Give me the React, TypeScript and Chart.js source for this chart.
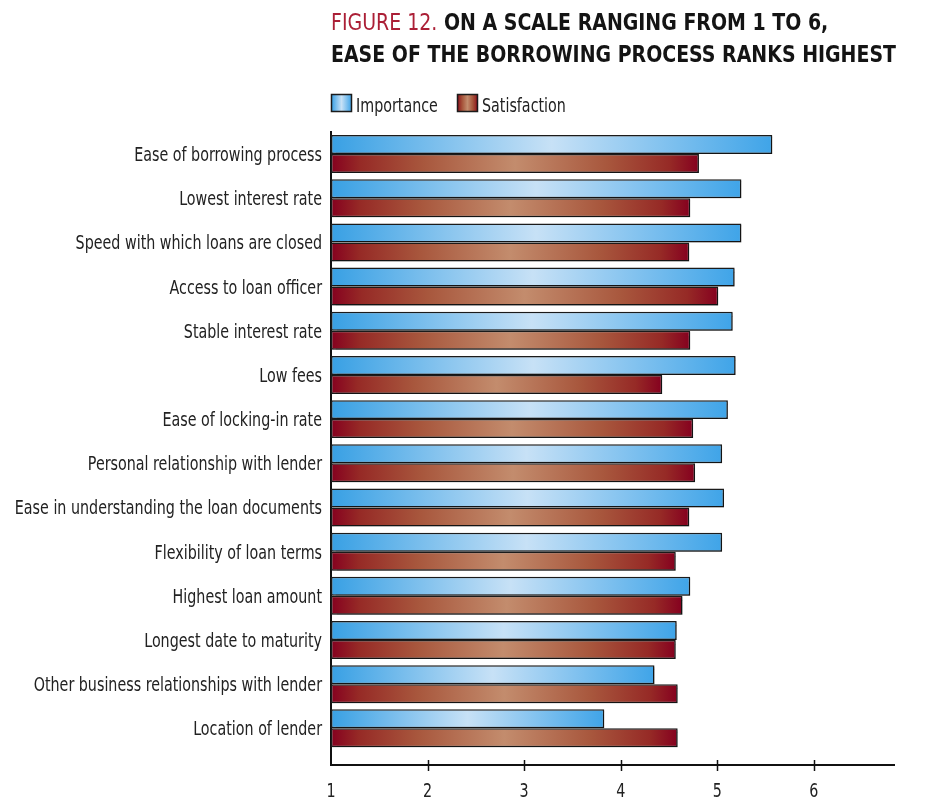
import React, { useEffect, useRef } from "react";
import { Chart, registerables } from "chart.js";

Chart.register(...registerables);

const categories = [
  "Ease of borrowing process",
  "Lowest interest rate",
  "Speed with which loans are closed",
  "Access to loan officer",
  "Stable interest rate",
  "Low fees",
  "Ease of locking-in rate",
  "Personal relationship with lender",
  "Ease in understanding the loan documents",
  "Flexibility of loan terms",
  "Highest loan amount",
  "Longest date to maturity",
  "Other business relationships with lender",
  "Location of lender",
];
const importance = [5.57, 5.25, 5.25, 5.18, 5.16, 5.19, 5.11, 5.05, 5.07, 5.05, 4.72, 4.58, 4.35, 3.83];
const satisfaction = [4.81, 4.72, 4.71, 5.01, 4.72, 4.43, 4.75, 4.77, 4.71, 4.57, 4.64, 4.57, 4.59, 4.59];
const xTicks = [1, 2, 3, 4, 5, 6];
const seriesNames = ["Importance", "Satisfaction"];
const titleLead = "FIGURE 12.";
const titleLine1 = " ON A SCALE RANGING FROM 1 TO 6,";
const titleLine2 = "EASE OF THE BORROWING PROCESS RANKS HIGHEST";

const FONT = "'DejaVu Sans Condensed', 'Liberation Sans Narrow', sans-serif";
const SX = 0.836; // horizontal condensing of text
const X_MIN = 1;
const X_MAX = 6.83;

const blueStops: [number, string][] = [
  [0, "#38a0e4"],
  [0.5, "#c7e1f6"],
  [1, "#3fa4e8"],
];
const redStops: [number, string][] = [
  [0, "#85001f"],
  [0.08, "#962a26"],
  [0.25, "#a8573d"],
  [0.5, "#c38c6d"],
  [0.75, "#a8573d"],
  [0.92, "#962a26"],
  [1, "#85001f"],
];

function makeGradient(ctx: CanvasRenderingContext2D, x0: number, x1: number, stops: [number, string][]) {
  const g = ctx.createLinearGradient(x0, 0, x1 === x0 ? x0 + 1 : x1, 0);
  stops.forEach(([o, c]) => g.addColorStop(o, c));
  return g;
}

function barFill(stops: [number, string][]) {
  return (c: any) => {
    const chart = c.chart;
    const xs = chart.scales && chart.scales.x;
    if (!xs || c.type !== "data") return stops[0][1];
    const v = c.parsed && typeof c.parsed.x === "number" ? c.parsed.x : c.raw;
    const x0 = xs.getPixelForValue(X_MIN);
    const x1 = xs.getPixelForValue(v);
    if (!isFinite(x0) || !isFinite(x1)) return stops[0][1];
    return makeGradient(chart.ctx, x0, x1, stops);
  };
}

function drawText(
  ctx: CanvasRenderingContext2D,
  text: string,
  x: number,
  y: number,
  align: CanvasTextAlign,
  sx: number
) {
  ctx.save();
  ctx.translate(x, y);
  ctx.scale(sx, 1);
  ctx.textAlign = align;
  ctx.textBaseline = "alphabetic";
  ctx.fillText(text, 0, 0);
  ctx.restore();
}

const decorPlugin = {
  id: "decor",
  beforeDatasetsDraw(chart: any) {
    const ctx = chart.ctx;
    ctx.save();
    ctx.shadowColor = "rgba(0,0,0,0.28)";
    ctx.shadowOffsetX = 1.5;
    ctx.shadowOffsetY = 1.5;
    ctx.shadowBlur = 1;
  },
  afterDatasetsDraw(chart: any) {
    chart.ctx.restore();
  },
  afterDraw(chart: any) {
    const ctx: CanvasRenderingContext2D = chart.ctx;
    const area = chart.chartArea;
    const xs = chart.scales.x;
    const ys = chart.scales.y;
    const left = area.left;
    ctx.save();
    // x tick marks crossing the axis, and x tick labels
    ctx.strokeStyle = "#111";
    ctx.lineWidth = 1.5;
    ctx.fillStyle = "#222";
    ctx.font = `19px ${FONT}`;
    xTicks.forEach((v) => {
      const px = xs.getPixelForValue(v);
      if (v !== X_MIN) {
        const rx = Math.round(px) + 0.5;
        ctx.beginPath();
        ctx.moveTo(rx, area.bottom - 5);
        ctx.lineTo(rx, area.bottom + 6);
        ctx.stroke();
      }
      drawText(ctx, String(v), px, area.bottom + 32, "center", SX);
    });
    // category labels
    categories.forEach((label, i) => {
      const py = ys.getPixelForTick(i);
      drawText(ctx, label, left - 9, py + 7, "right", SX);
    });
    // title
    ctx.font = `bold 23px ${FONT}`;
    const tsx = 565 / ctx.measureText(titleLine2).width;
    ctx.fillStyle = "#141414";
    drawText(ctx, titleLine2, left, 62, "left", tsx);
    ctx.font = `23px ${FONT}`;
    ctx.fillStyle = "#ab1f36";
    drawText(ctx, titleLead, left, 30, "left", tsx);
    const w = ctx.measureText(titleLead).width * tsx;
    ctx.font = `bold 23px ${FONT}`;
    ctx.fillStyle = "#141414";
    drawText(ctx, titleLine1, left + w, 30, "left", tsx);
    // legend
    const legendItems = [
      { name: seriesNames[0], stops: blueStops, x: left },
      { name: seriesNames[1], stops: redStops, x: left + 126 },
    ];
    ctx.font = `19px ${FONT}`;
    legendItems.forEach((it) => {
      const bx = it.x + 0.5;
      const by = 94.5;
      ctx.fillStyle = makeGradient(ctx, bx, bx + 20, it.stops);
      ctx.fillRect(bx, by, 20, 17);
      ctx.strokeStyle = "#1b1b1b";
      ctx.lineWidth = 1.5;
      ctx.strokeRect(bx, by, 20, 17);
      ctx.fillStyle = "#222";
      drawText(ctx, it.name, it.x + 25, 111.5, "left", SX);
    });
    ctx.restore();
  },
};

export default function App() {
  const ref = useRef<HTMLCanvasElement | null>(null);
  useEffect(() => {
    if (!ref.current) return;
    const chart = new Chart(ref.current, {
      type: "bar",
      data: {
        labels: categories,
        datasets: [
          {
            label: seriesNames[0],
            data: importance,
            base: X_MIN,
            backgroundColor: barFill(blueStops),
            borderColor: "#1b1b1b",
            borderWidth: 1.5,
            borderSkipped: false,
          } as any,
          {
            label: seriesNames[1],
            data: satisfaction,
            base: X_MIN,
            backgroundColor: barFill(redStops),
            borderColor: "#1b1b1b",
            borderWidth: 1.5,
            borderSkipped: false,
          } as any,
        ],
      },
      options: {
        indexAxis: "y",
        animation: false,
        responsive: true,
        maintainAspectRatio: false,
        categoryPercentage: 0.86,
        barPercentage: 1,
        layout: { padding: { top: 132, right: 37, bottom: 0, left: 0 } },
        plugins: {
          legend: { display: false },
          title: { display: false },
          tooltip: { enabled: false },
        },
        scales: {
          x: {
            type: "linear",
            min: X_MIN,
            max: X_MAX,
            grid: { display: false },
            border: { display: true, color: "#111", width: 2 },
            afterBuildTicks: (s: any) => {
              s.ticks = xTicks.map((v) => ({ value: v }));
            },
            afterFit: (s: any) => {
              s.height = 34;
            },
            ticks: { display: false },
          },
          y: {
            type: "category",
            grid: { display: false },
            border: { display: true, color: "#111", width: 2 },
            afterBuildTicks: (s: any) => {
              s._valueRange += 0.33;
            },
            afterFit: (s: any) => {
              s.width = 331;
            },
            ticks: { display: false, autoSkip: false },
          },
        },
      } as any,
      plugins: [decorPlugin],
    });
    return () => chart.destroy();
  }, []);
  return (
    <div style={{ position: "absolute", left: 0, top: 0, width: 931, height: 799, background: "#fff" }}>
      <canvas ref={ref} />
    </div>
  );
}
